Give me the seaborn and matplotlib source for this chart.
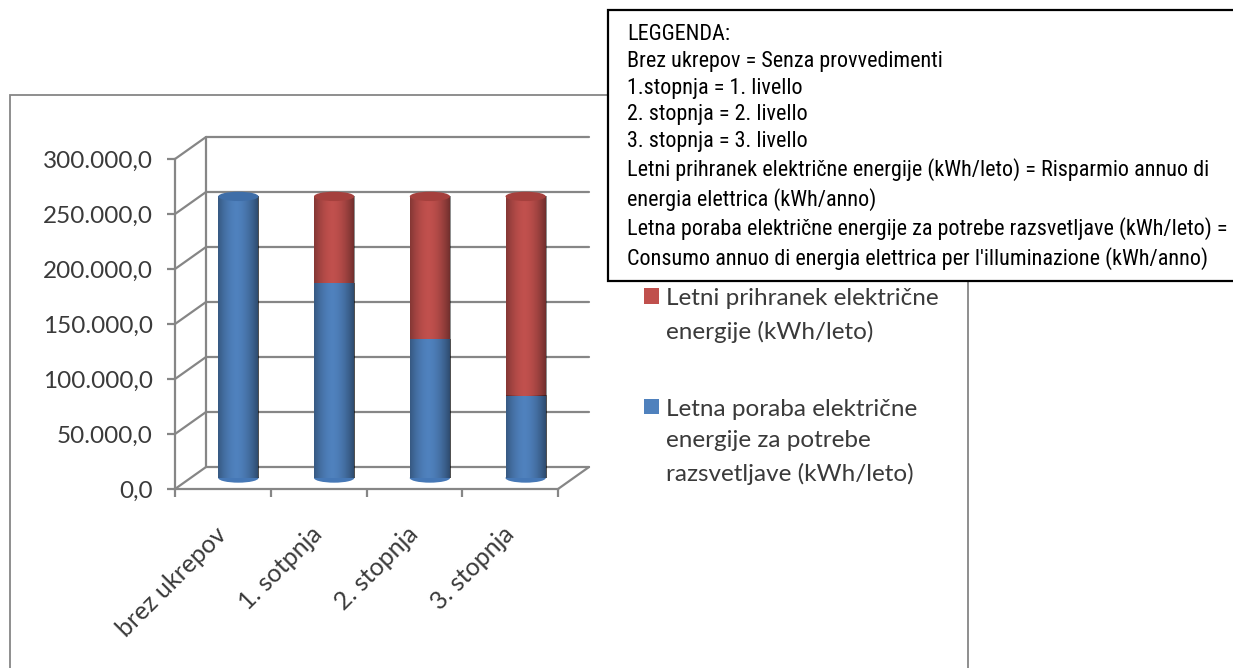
import matplotlib
matplotlib.use("Agg")
import matplotlib.pyplot as plt
import matplotlib.transforms as mtransforms
from matplotlib.patches import Ellipse, Rectangle
from matplotlib.ticker import FuncFormatter
import numpy as np
import pandas as pd
import seaborn as sns

# podatki
categories = ["brez ukrepov", "1. sotpnja", "2. stopnja", "3. stopnja"]
poraba = [256000, 177000, 126000, 75000]       # Letna poraba (modra)
prihranek = [0, 79000, 130000, 181000]         # Letni prihranek (rdeča)
y_ticks = [0, 50000, 100000, 150000, 200000, 250000, 300000]

label_prihranek = "Letni prihranek električne\nenergije (kWh/leto)"
label_poraba = "Letna poraba električne\nenergije za potrebe\nrazsvetljave (kWh/leto)"

legenda_lines = [
    "LEGGENDA:",
    "Brez ukrepov = Senza provvedimenti",
    "1.stopnja = 1. livello",
    "2. stopnja = 2. livello",
    "3. stopnja = 3. livello",
    "Letni prihranek električne energije (kWh/leto) = Risparmio annuo di",
    "energia elettrica (kWh/anno)",
    "Letna poraba električne energije za potrebe razsvetljave (kWh/leto) =",
    "Consumo annuo di energia elettrica per l'illuminazione (kWh/anno)",
]

BLUE = "#4f81bd"
RED = "#c0504d"
GRAY = "#868686"
TXT = "#3a3a3a"

sns.set_theme(style="white")
plt.rcParams["font.family"] = ["Lato", "DejaVu Sans"]

W, H = 1233, 668
fig = plt.figure(figsize=(W / 100, H / 100), dpi=100)
fig.patch.set_facecolor("white")

# sprednja ravnina grafa
ax = fig.add_axes([175 / W, (H - 489) / H, 383 / W, 330 / H])

df = pd.DataFrame({"stopnja": categories, "poraba": poraba, "prihranek": prihranek})
df["skupaj"] = df["poraba"] + df["prihranek"]

bar_w = 0.42
sns.barplot(data=df, x="stopnja", y="skupaj", color=RED, saturation=1, width=bar_w,
            label=label_prihranek, linewidth=0, ax=ax)
sns.barplot(data=df, x="stopnja", y="poraba", color=BLUE, saturation=1, width=bar_w,
            label=label_poraba, linewidth=0, ax=ax)

ax.set_xlim(-0.5, 3.5)
ax.set_ylim(0, 300000)

# globina (3D ucinek) v podatkovnih enotah
dx, dy = 0.324, 20000
back = mtransforms.Affine2D().translate(dx, dy) + ax.transData
mid = mtransforms.Affine2D().translate(dx / 2, dy / 2) + ax.transData

# zadnja stena in mreza
for v in y_ticks:
    ax.plot([-0.5, 3.5], [v, v], transform=back, color=GRAY, lw=1.6, clip_on=False, zorder=0.5)
    ax.plot([-0.5, -0.5 + dx], [v, v + dy], color=GRAY, lw=1.6, clip_on=False, zorder=0.5)
ax.plot([-0.5, -0.5], [0, 300000], transform=back, color=GRAY, lw=1.6, clip_on=False, zorder=0.5)
ax.plot([3.5, 3.5 + dx], [0, dy], color=GRAY, lw=1.6, clip_on=False, zorder=0.5)

# valji
t = np.linspace(0, 1, 80)
shade_a = 0.45 * (np.abs(t - 0.45) / 0.55) ** 1.8
shade = np.zeros((1, len(t), 4))
shade[..., 3] = shade_a

n = len(categories)
for i, p in enumerate(ax.patches):
    z = 2 if i < n else 3
    p.set_zorder(z)
    p.set_transform(mid)
    p.set_clip_on(False)
    x0, w, y0, h = p.get_x(), p.get_width(), p.get_y(), p.get_height()
    if h > 0:
        im = ax.imshow(shade, extent=[x0, x0 + w, y0, y0 + h], aspect="auto",
                       interpolation="bilinear", zorder=z + 0.1)
        im.set_transform(mid)
        im.set_clip_on(False)

ell_h = 8500
for i in range(n):
    top = poraba[i] + prihranek[i]
    cap = "#a5403d" if prihranek[i] > 0 else "#3f6ea8"
    bottom = Ellipse((i, 0), bar_w, ell_h, facecolor="#4678b6", edgecolor="none",
                     zorder=1.5, transform=mid, clip_on=False)
    ax.add_patch(bottom)
    e = Ellipse((i, top), bar_w, ell_h, facecolor=cap, edgecolor="none",
                zorder=4, transform=mid, clip_on=False)
    ax.add_patch(e)

ax.set_xlim(-0.5, 3.5)
ax.set_ylim(0, 300000)

# osi
for s in ["top", "right"]:
    ax.spines[s].set_visible(False)
for s in ["left", "bottom"]:
    ax.spines[s].set_color(GRAY)
    ax.spines[s].set_linewidth(1.6)

ax.set_yticks(y_ticks)
ax.yaxis.set_major_formatter(FuncFormatter(
    lambda v, pos: f"{v:,.1f}".replace(",", "X").replace(".", ",").replace("X", ".")))
ax.tick_params(axis="y", direction="out", length=6, width=1.6, color=GRAY,
               labelsize=17.5, labelcolor=TXT, pad=10, left=True)

ax.set_xticks(np.arange(n + 1) - 0.5)
ax.set_xticklabels([])
ax.set_xticks(np.arange(n), minor=True)
ax.set_xticklabels(categories, minor=True, rotation=45, ha="right",
                   rotation_mode="anchor", va="center")
for lab in ax.get_xticklabels(minor=True):
    lab.set_transform(lab.get_transform() + mtransforms.ScaledTranslation(0.04, 0, fig.dpi_scale_trans))
ax.tick_params(axis="x", which="major", direction="out", length=6, width=1.6,
               color=GRAY, bottom=True)
ax.tick_params(axis="x", which="minor", length=0, labelsize=18, labelcolor=TXT, pad=30)
ax.set_xlabel("")
ax.set_ylabel("")
ax.grid(False)

# legenda grafa
handles, labels = ax.get_legend_handles_labels()
leg = ax.legend(handles, labels, loc="upper left", bbox_to_anchor=(644 / W, 1 - 288 / H),
                bbox_transform=fig.transFigure, frameon=False, fontsize=17.5,
                labelcolor=TXT, labelspacing=2.3, handlelength=0.62, handleheight=0.62,
                handletextpad=0.3, borderaxespad=0, borderpad=0)
for txt in leg.get_texts():
    txt.set_linespacing(1.64)
for col in leg._legend_handle_box.get_children():
    for item in col.get_children():
        item.align = "top"

# okvir grafa
fig.add_artist(Rectangle((10 / W, -0.05), 958 / W, 1.05 - 95 / H, transform=fig.transFigure,
                         fill=False, edgecolor=GRAY, lw=1.3, zorder=1))

# okvir z besedilom LEGGENDA
fig.add_artist(Rectangle((608 / W, 1 - 281 / H), 640 / W, 271 / H, transform=fig.transFigure,
                         facecolor="white", edgecolor="black", lw=1.6, zorder=10))
fig.text(627 / W, 1 - 24 / H, "\n".join(legenda_lines), ha="left", va="top",
         family=["Liberation Sans Narrow", "Arial Narrow", "DejaVu Sans Condensed",
                 "Roboto Condensed", "Liberation Sans"],
         fontsize=15.9, linespacing=1.36, color="black", zorder=11)

fig.savefig("out.png", dpi=100)
